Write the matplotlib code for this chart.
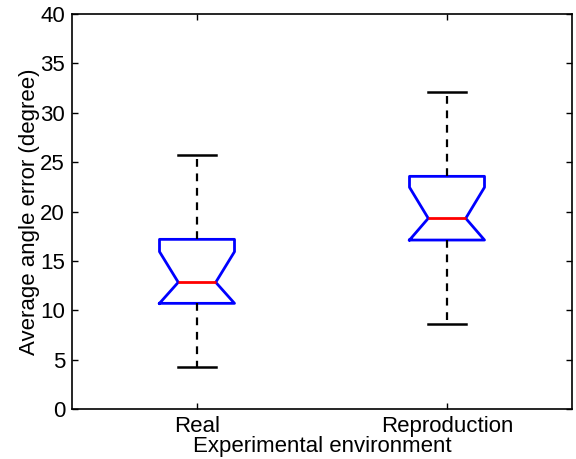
import matplotlib
matplotlib.use("Agg")
import matplotlib.pyplot as plt

categories = ["Real", "Reproduction"]
medians = [12.83, 19.31]
q1 = [10.70, 17.11]
q3 = [17.18, 23.56]
notch_lo = [10.70, 17.11]
notch_hi = [15.93, 22.45]
whisker_lo = [4.22, 8.58]
whisker_hi = [25.72, 32.13]
yticks = [0, 5, 10, 15, 20, 25, 30, 35, 40]

plt.rcParams['font.family'] = ['Liberation Sans', 'DejaVu Sans']

fig = plt.figure(figsize=(5.76, 4.59), dpi=100)
ax = fig.add_axes([72/576, 50/459, 500/576, 395/459])

stats = []
for i, c in enumerate(categories):
    stats.append(dict(label=c, med=medians[i], q1=q1[i], q3=q3[i],
                      cilo=notch_lo[i], cihi=notch_hi[i],
                      whislo=whisker_lo[i], whishi=whisker_hi[i], fliers=[]))

ax.bxp(stats, positions=[1, 2], widths=0.30, capwidths=0.15, shownotches=True,
       boxprops=dict(color='#0000ff', linewidth=2.0),
       medianprops=dict(color='#ff0000', linewidth=2.0),
       whiskerprops=dict(color='black', linewidth=1.6, linestyle=(0, (3.5, 3))),
       capprops=dict(color='black', linewidth=1.8),
       showfliers=False)

ax.set_xlim(0.5, 2.5)
ax.set_ylim(0, 40)
ax.set_yticks(yticks)
ax.set_xticks([1, 2])
ax.set_xticklabels(categories)
ax.tick_params(direction='in', length=4, width=1, labelsize=16, top=True, right=True, pad=5)
for s in ax.spines.values():
    s.set_linewidth(1.2)
ax.set_ylabel("Average angle error (degree)", fontsize=16, labelpad=0)
ax.set_xlabel("Experimental environment", fontsize=16, labelpad=-1)

fig.savefig("out.png", dpi=100)
